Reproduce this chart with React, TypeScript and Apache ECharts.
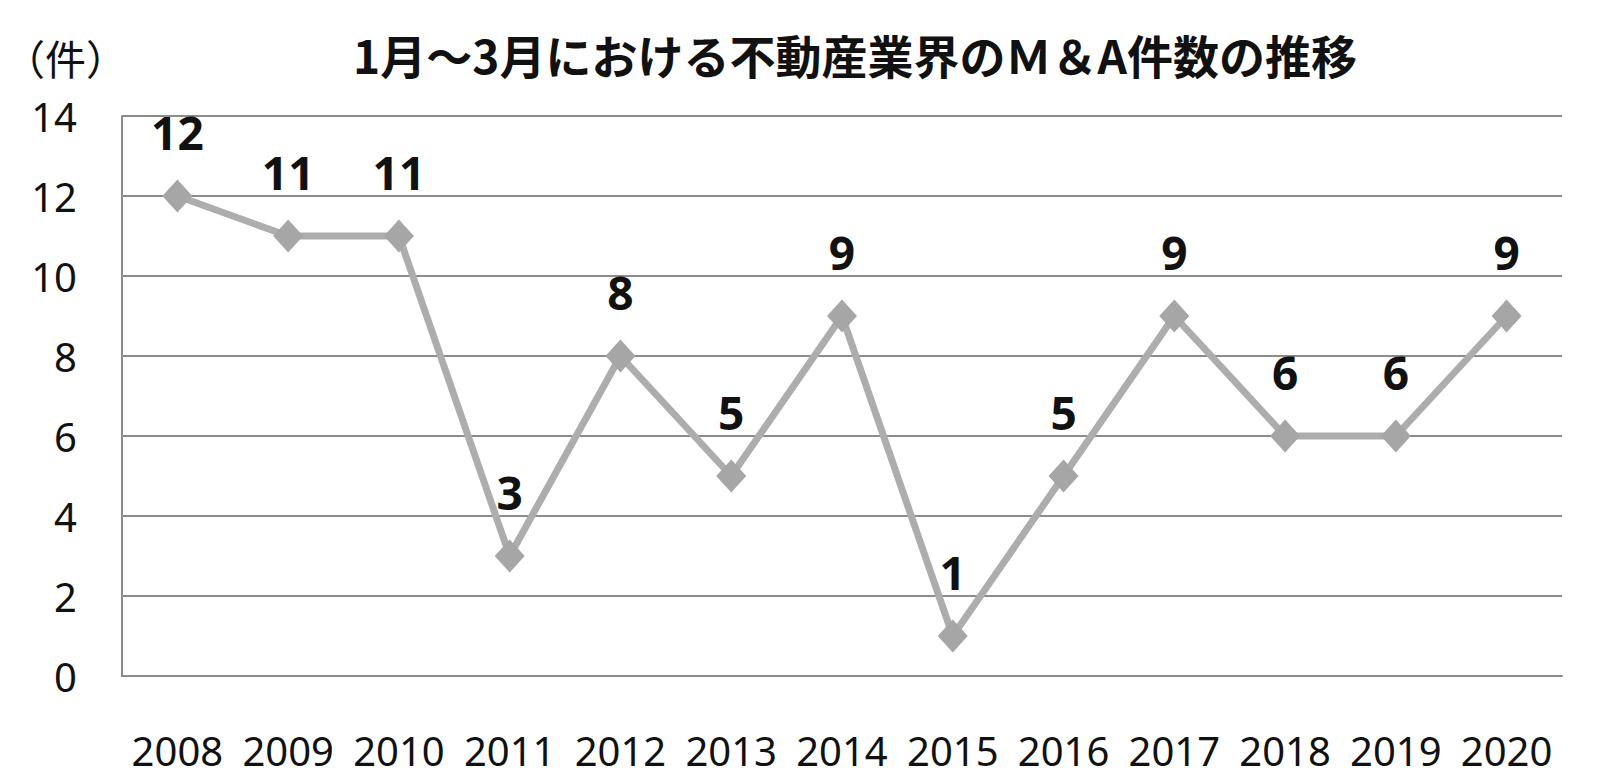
import React, { useEffect, useRef } from "react";
import * as echarts from "echarts";

const TITLE = "1月～3月における不動産業界のＭ＆A件数の推移";
const UNIT_LABEL = "（件）";
const years = ["2008", "2009", "2010", "2011", "2012", "2013", "2014", "2015", "2016", "2017", "2018", "2019", "2020"];
const counts = [12, 11, 11, 3, 8, 5, 9, 1, 5, 9, 6, 6, 9];
const Y_MIN = 0;
const Y_MAX = 14;
const Y_STEP = 2;

export default function App() {
  const ref = useRef<HTMLDivElement>(null);
  useEffect(() => {
    document.body.style.margin = "0";
    const chart = echarts.init(ref.current!, null, { renderer: "svg" });
    chart.setOption({
      animation: false,
      backgroundColor: "#ffffff",
      title: {
        text: TITLE,
        left: 850,
        top: 26,
        textAlign: "center",
        textStyle: {
          fontFamily: "Noto Sans CJK JP",
          fontWeight: "bold",
          fontSize: 46,
          color: "#111111",
        },
      },
      graphic: [
        {
          type: "text",
          left: 4,
          top: 36,
          style: {
            text: UNIT_LABEL,
            font: "41px 'Noto Sans CJK JP'",
            fill: "#111111",
          },
        },
      ],
      grid: { left: 122, right: 37, top: 116, bottom: 106, containLabel: false },
      xAxis: {
        type: "category",
        data: years,
        boundaryGap: true,
        axisLine: { show: true, lineStyle: { color: "#8c8c8c", width: 2 } },
        axisTick: { show: false },
        axisLabel: {
          interval: 0,
          margin: 54,
          fontFamily: "Noto Sans",
          fontSize: 40,
          color: "#111111",
        },
      },
      yAxis: {
        type: "value",
        min: Y_MIN,
        max: Y_MAX,
        interval: Y_STEP,
        axisLine: { show: true, lineStyle: { color: "#8c8c8c", width: 2 } },
        axisTick: { show: false },
        splitLine: { show: true, lineStyle: { color: "#8c8c8c", width: 2 } },
        axisLabel: {
          margin: 45,
          fontFamily: "Noto Sans",
          fontSize: 40,
          color: "#111111",
        },
      },
      series: [
        {
          type: "line",
          data: counts,
          symbol: "diamond",
          symbolSize: [30, 33],
          lineStyle: { color: "#adadad", width: 7 },
          itemStyle: { color: "#a6a6a6" },
          label: {
            show: true,
            position: "top",
            distance: 25,
            fontFamily: "Noto Sans",
            fontWeight: "bold",
            fontSize: 46,
            lineHeight: 46,
            color: "#111111",
          },
        },
      ],
    });
    return () => chart.dispose();
  }, []);
  return <div ref={ref} style={{ width: 1599, height: 782 }} />;
}
